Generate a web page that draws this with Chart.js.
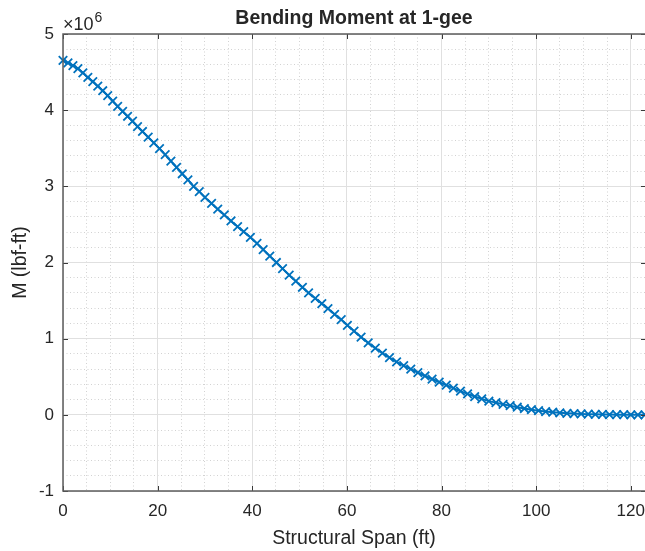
<!DOCTYPE html>
<html>
<head>
<meta charset="utf-8">
<title>Bending Moment at 1-gee</title>
<script src="https://cdn.jsdelivr.net/npm/chart.js@4.4.1/dist/chart.umd.min.js"></script>
<style>
  html, body { margin: 0; padding: 0; background: #ffffff; }
  canvas { display: block; }
</style>
</head>
<body>
<canvas id="chart" width="645" height="551"></canvas>
<script>
// Station along the structural span (ft)
const spanFt = [
  0, 1.05, 2.1, 3.15, 4.2, 5.25, 6.3, 7.35, 8.4, 9.45, 10.5, 11.55, 12.6, 13.65, 14.7, 15.75, 16.8,
  18.0, 19.2, 20.4, 21.6, 22.8, 24.0, 25.2, 26.4, 27.6, 28.8, 30.0,
  31.4, 32.7, 34.1, 35.5, 36.9, 38.2, 39.6, 41.0, 42.3, 43.7, 45.1, 46.4, 47.8, 49.2, 50.6, 51.9,
  53.3, 54.7, 56.0, 57.4, 58.8, 60.1,
  61.5, 63.0, 64.5, 66.0, 67.5, 69.0, 70.5, 72.0, 73.5, 75.0, 76.5, 78.0, 79.5, 81.0, 82.5, 84.0,
  85.5, 87.0, 88.5, 90.0, 91.5, 93.0, 94.5, 96.0, 97.5, 99.0, 100.5, 102.0, 103.5, 105.0, 106.5,
  108.0, 109.5, 111.0, 112.5, 114.0, 115.5, 117.0, 118.5, 120.0, 121.5, 123.0
];

// Bending moment at each station, in units of 10^6 lbf-ft
const momentMillions = [
  4.655, 4.62, 4.585, 4.545, 4.49, 4.43, 4.375, 4.315, 4.255, 4.19, 4.12, 4.05, 3.985, 3.92, 3.855, 3.785, 3.72,
  3.645, 3.57, 3.495, 3.415, 3.33, 3.25, 3.165, 3.085, 3.0, 2.93, 2.855,
  2.775, 2.70, 2.625, 2.545, 2.47, 2.405, 2.33, 2.25, 2.17, 2.085, 2.0, 1.92, 1.835, 1.755, 1.675, 1.60,
  1.53, 1.46, 1.395, 1.32, 1.25, 1.175,
  1.10, 1.02, 0.945, 0.875, 0.81, 0.75, 0.695, 0.645, 0.60, 0.555, 0.51, 0.47, 0.43, 0.39, 0.35, 0.31,
  0.275, 0.24, 0.21, 0.18, 0.16, 0.138, 0.12, 0.10, 0.083, 0.067, 0.054, 0.043, 0.034, 0.026, 0.02,
  0.016, 0.012, 0.009, 0.007, 0.005, 0.003, 0.002, 0.0015, 0.001, 0.0005, 0
];

// Axis ticks
const xTickValues = [0, 20, 40, 60, 80, 100, 120];
const yTickValues = [-1, 0, 1, 2, 3, 4, 5];
const xRange = [0, 123];
const yRange = [-1, 5];

const titleText = 'Bending Moment at 1-gee';
const xLabelText = 'Structural Span (ft)';
const yLabelText = 'M (lbf-ft)';
const exponentText = ['\u00d710', '6'];

const FONT = '"Liberation Sans", Arial, Helvetica, sans-serif';
const TEXT = '#262626';
const LINE_BLUE = '#0072BD';

const points = spanFt.map((x, i) => ({ x: x, y: momentMillions[i] }));

// Box, inward ticks and all annotation text drawn on top of the axes
const matlabAxes = {
  id: 'matlabAxes',
  afterDraw(chart) {
    const { ctx, chartArea: a, scales } = chart;
    const sx = scales.x, sy = scales.y;
    ctx.save();

    // inward ticks on all four sides
    ctx.strokeStyle = '#3a3a3a';
    ctx.lineWidth = 1;
    const tl = 5;
    ctx.beginPath();
    xTickValues.forEach(v => {
      const px = Math.round(sx.getPixelForValue(v)) + 0.5;
      ctx.moveTo(px, a.bottom); ctx.lineTo(px, a.bottom - tl);
      ctx.moveTo(px, a.top); ctx.lineTo(px, a.top + tl);
    });
    yTickValues.forEach(v => {
      const py = Math.round(sy.getPixelForValue(v)) + 0.5;
      ctx.moveTo(a.left, py); ctx.lineTo(a.left + tl, py);
      ctx.moveTo(a.right + 1, py); ctx.lineTo(a.right + 1 - tl, py);
    });
    ctx.stroke();

    // axes box (the right edge sits just past the canvas)
    ctx.strokeStyle = '#5c5c5c';
    ctx.lineWidth = 1.5;
    ctx.strokeRect(a.left, a.top, a.right + 1 - a.left, a.bottom - a.top);

    ctx.fillStyle = TEXT;
    // title
    ctx.font = 'bold 19.5px ' + FONT;
    ctx.textAlign = 'center';
    ctx.textBaseline = 'alphabetic';
    ctx.fillText(titleText, (a.left + a.right) / 2, 24);

    // x-axis label
    ctx.font = '19.5px ' + FONT;
    ctx.fillText(xLabelText, (a.left + a.right) / 2, 544);

    // y-axis label
    ctx.save();
    ctx.translate(26, (a.top + a.bottom) / 2);
    ctx.rotate(-Math.PI / 2);
    ctx.fillText(yLabelText, 0, 0);
    ctx.restore();

    // exponent of the y axis
    ctx.textAlign = 'left';
    ctx.font = '18px ' + FONT;
    ctx.fillText(exponentText[0], a.left, 30);
    const w = ctx.measureText(exponentText[0]).width;
    ctx.font = '14px ' + FONT;
    ctx.fillText(exponentText[1], a.left + w + 1, 22);

    ctx.restore();
  }
};

new Chart(document.getElementById('chart'), {
  type: 'line',
  data: {
    datasets: [{
      data: points,
      borderColor: LINE_BLUE,
      backgroundColor: LINE_BLUE,
      borderWidth: 2,
      pointStyle: 'crossRot',
      pointRadius: 6,
      pointBorderWidth: 1.8,
      pointBorderColor: LINE_BLUE,
      pointHoverRadius: 6,
      tension: 0,
      fill: false,
      clip: false
    }]
  },
  options: {
    responsive: false,
    devicePixelRatio: 1,
    animation: false,
    events: [],
    layout: { autoPadding: false, padding: { top: 34, right: 0, bottom: 0, left: 0 } },
    plugins: {
      legend: { display: false },
      title: { display: false },
      tooltip: { enabled: false }
    },
    scales: {
      xMinor: {
        axis: 'x', type: 'linear', position: 'bottom',
        min: xRange[0], max: xRange[1],
        ticks: { display: false, stepSize: 5, includeBounds: false },
        grid: { color: '#d2d2d2', lineWidth: 1, drawTicks: false, z: -2 },
        border: { display: false, dash: [1, 2.5] },
        afterFit: s => { s.height = 0; s.paddingLeft = 0; s.paddingRight = 0; }
      },
      yMinor: {
        axis: 'y', type: 'linear', position: 'left',
        min: yRange[0], max: yRange[1],
        ticks: { display: false, stepSize: 0.2, includeBounds: false },
        grid: { color: '#d2d2d2', lineWidth: 1, drawTicks: false, z: -2 },
        border: { display: false, dash: [1, 2.5] },
        afterFit: s => { s.width = 0; s.paddingTop = 0; s.paddingBottom = 0; }
      },
      x: {
        type: 'linear', position: 'bottom',
        min: xRange[0], max: xRange[1],
        afterBuildTicks: s => { s.ticks = xTickValues.map(v => ({ value: v })); },
        ticks: {
          color: TEXT, padding: 10, maxRotation: 0, autoSkip: false,
          font: { family: FONT, size: 17 },
          callback: v => String(v)
        },
        grid: { color: '#e0e0e0', lineWidth: 1, drawTicks: false, z: -1 },
        border: { display: false },
        afterFit: s => { s.height = 60; s.paddingLeft = 0; s.paddingRight = 0; }
      },
      y: {
        type: 'linear', position: 'left',
        min: yRange[0], max: yRange[1],
        afterBuildTicks: s => { s.ticks = yTickValues.map(v => ({ value: v })); },
        ticks: {
          color: TEXT, padding: 9, autoSkip: false,
          font: { family: FONT, size: 17 },
          callback: v => String(v)
        },
        grid: { color: '#e0e0e0', lineWidth: 1, drawTicks: false, z: -1 },
        border: { display: false },
        afterFit: s => { s.width = 63; s.paddingTop = 0; s.paddingBottom = 0; }
      }
    }
  },
  plugins: [matlabAxes]
});
</script>
</body>
</html>
